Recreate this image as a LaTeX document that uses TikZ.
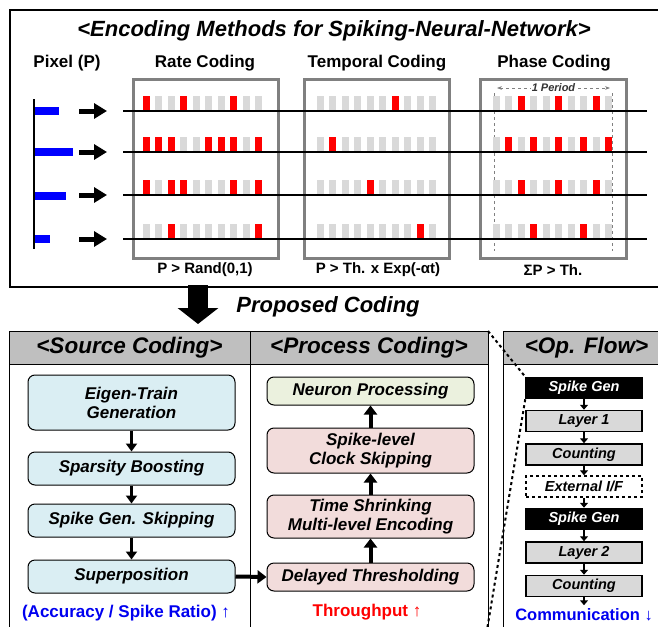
\documentclass[tikz,border=0pt]{standalone}
\usepackage{fontspec}
\setmainfont{Liberation Sans}
\usetikzlibrary{arrows.meta}
\definecolor{spkgray}{HTML}{D9D9D9}
\definecolor{boxgray}{HTML}{808080}
\definecolor{srcblue}{HTML}{DAEEF3}
\definecolor{procpink}{HTML}{F2DCDB}
\definecolor{neurgreen}{HTML}{EBF1DE}
\definecolor{headgray}{HTML}{BFBFBF}
\definecolor{txtblue}{HTML}{0000F0}
\tikzset{
	spike/.style={fill=spkgray},
	fire/.style={fill=red},
	codebox/.style={draw=boxgray, line width=3pt},
	heading/.style={font=\bfseries\fontsize{17}{19}\selectfont},
	formula/.style={font=\bfseries\fontsize{15}{17}\selectfont},
	header/.style={draw, line width=1pt, fill=headgray, minimum height=33pt, font=\bfseries\itshape\fontsize{22.5}{25}\selectfont},
	srcbox/.style={draw, line width=1pt, rounded corners=7pt, fill=srcblue, minimum width=207pt, align=center, font=\bfseries\itshape\fontsize{17}{19}\selectfont},
	procbox/.style={srcbox, fill=procpink},
	opbox/.style={draw, line width=1.5pt, fill=spkgray, minimum width=116pt, minimum height=21pt, inner sep=0pt, font=\bfseries\itshape\fontsize{14.5}{16}\selectfont},
	genbox/.style={opbox, fill=black, text=white},
	pixarrow/.style={line width=5pt, -{Triangle[length=13pt,width=15pt]}},
	srcarrow/.style={line width=3.5pt, -{Triangle[length=8pt,width=11pt]}},
	procarrow/.style={line width=4pt, -{Triangle[length=9pt,width=13pt]}},
	oparrow/.style={line width=2pt, -{Triangle[length=5pt,width=8pt]}},
}
\begin{document}
\begin{tikzpicture}[x=1pt,y=-1pt]
	\useasboundingbox (0,0) rectangle (658,626);
	% top frame
	\draw[line width=1.5pt] (662,10) -- (10,10) -- (10,287) -- (662,287);
	\node[font=\bfseries\itshape\fontsize{22}{24}\selectfont] (title) at (334,31) {<Encoding Methods for Spiking-Neural-Network>};
	\node[heading] (pixhead) at (67,63) {Pixel (P)};
	\node[heading] (ratehead) at (205,63) {Rate Coding};
	\node[heading] (temphead) at (377,63) {Temporal Coding};
	\node[heading] (phasehead) at (554,63) {Phase Coding};
	
	\draw[codebox] (133,79) rectangle (278,258);
	\draw[codebox] (304,79) rectangle (449,258);
	\draw[codebox] (480,79) rectangle (626,258);
	
	% one period
	\draw[boxgray, line width=1pt, dashed] (494,93) -- (494,251);
	\draw[boxgray, line width=1pt, dashed] (612,93) -- (612,251);
	\coordinate (perl) at (497,88);
	\coordinate (perr) at (610,88);
	\draw[boxgray, line width=1pt, dashed, {Stealth[length=5pt]}-{Stealth[length=5pt]}] (perl) -- node[fill=white, inner sep=1pt, text=black!80, font=\bfseries\itshape\fontsize{11}{12}\selectfont] (period) {1 Period} (perr);
	
	% spike trains
	\foreach \bx/\ly/\reds in {143/111/{1,4,8}, 143/152/{1,2,3,6,7,8,10}, 143/195/{1,3,4,8,10}, 143/239/{3,10},
		317/111/{7}, 317/152/{2}, 317/195/{5}, 317/239/{9},
		493/111/{3,6,9}, 493/152/{2,4,6,8,10}, 493/195/{3,6,9}, 493/239/{4,8}}{
		\foreach \i in {1,...,10}
			\fill[spike] ({\bx+12.45*(\i-1)},\ly-15) rectangle ++(7,15);
		\foreach \i in \reds
			\fill[fire] ({\bx+12.45*(\i-1)},\ly-15) rectangle ++(7,15);
	}
	\foreach \ly in {111,152,195,239}
		\draw[line width=1.5pt] (123,\ly) -- (647,\ly);
	
	% pixels
	\draw[line width=2pt] (34,99) -- (34,249);
	\foreach \ly/\len in {111/24, 152/38, 196/31, 239/15}
		\fill[blue] (35,\ly-4) rectangle ({35+\len},\ly+4);
	\foreach \ly in {111,152,195,239}
		\draw[pixarrow] (79,\ly) -- (107,\ly);
	
	\node[formula] (ratef) at (205,270) {P > Rand(0,1)};
	\node[formula] (tempf) at (378,270) {P > Th. x Exp(-αt)};
	\node[formula] (phasef) at (553,270) {ΣP > Th.};
	
	% proposed
	\coordinate (downtop) at (198,285);
	\coordinate (downbot) at (198,324);
	\draw[line width=20pt, -{Triangle[length=16pt,width=40pt]}] (downtop) -- (downbot);
	\node[font=\bfseries\itshape\fontsize{22}{24}\selectfont] (proposed) at (328,307) {Proposed Coding};
	
	% panels
	\draw[line width=1pt] (9,364) -- (9,640);
	\draw[line width=1pt] (250,364) -- (250,640);
	\draw[line width=1pt] (488,364) -- (488,640);
	\draw[line width=1pt] (503,364) -- (503,640);
	\node[header, minimum width=241pt] (srchead) at (129.5,347.5) {<Source Coding>};
	\node[header, minimum width=238pt] (prochead) at (369,347.5) {<Process Coding>};
	\node[header, minimum width=167pt] (ophead) at (586.5,347.5) {<Op. Flow>};
	
	% source coding
	\node[srcbox, minimum height=55pt] (eigen) at (131.5,402.5) {Eigen-Train\\Generation};
	\node[srcbox, minimum height=33pt] (sparsity) at (131.5,468.5) {Sparsity Boosting};
	\node[srcbox, minimum height=33pt] (skipping) at (131.5,520.5) {Spike Gen. Skipping};
	\node[srcbox, minimum height=33pt] (superpos) at (131.5,576.5) {Superposition};
	\draw[srcarrow] (eigen) -- (sparsity);
	\draw[srcarrow] (sparsity) -- (skipping);
	\draw[srcarrow] (skipping) -- (superpos);
	\node[text=txtblue, font=\bfseries\fontsize{17}{19}\selectfont] (accuracy) at (126,613) {(Accuracy / Spike Ratio) ↑};
	
	% process coding
	\node[procbox, fill=neurgreen, minimum height=28pt] (neuron) at (370.5,391) {Neuron Processing};
	\node[procbox, minimum height=45pt] (clockskip) at (370.5,450.5) {Spike-level\\Clock Skipping};
	\node[procbox, minimum height=43pt] (shrink) at (370.5,516.5) {Time Shrinking\\Multi-level Encoding};
	\node[procbox, minimum height=28pt] (delayed) at (370.5,577) {Delayed Thresholding};
	\draw[procarrow] (delayed) -- (shrink);
	\draw[procarrow] (shrink) -- (clockskip);
	\draw[procarrow] (clockskip) -- (neuron);
	\draw[procarrow] (superpos.east) -- (delayed.west);
	\node[text=red, font=\bfseries\fontsize{17}{19}\selectfont] (throughput) at (367,612) {Throughput ↑};
	
	% op flow
	\node[genbox] (gen1) at (584,388) {Spike Gen};
	\node[opbox] (layer1) at (584,421) {Layer 1};
	\node[opbox] (count1) at (584,454.5) {Counting};
	\node[opbox, fill=white, dashed] (extif) at (584,486.5) {External I/F};
	\node[genbox] (gen2) at (584,519) {Spike Gen};
	\node[opbox] (layer2) at (584,552.5) {Layer 2};
	\node[opbox] (count2) at (584,586) {Counting};
	\node[text=txtblue, font=\bfseries\fontsize{16.5}{18}\selectfont] (comm) at (584,615) {Communication ↓};
	\draw[oparrow] (gen1) -- (layer1);
	\draw[oparrow] (layer1) -- (count1);
	\draw[oparrow] (count1) -- (extif);
	\draw[oparrow] (extif) -- (gen2);
	\draw[oparrow] (gen2) -- (layer2);
	\draw[oparrow] (layer2) -- (count2);
	\draw[oparrow] (count2) -- (comm);
	
	\coordinate (proccorner) at (488,331);
	\coordinate (procbottom) at (487,630);
	\draw[line width=2pt, dashed] (proccorner) -- (gen1.north west);
	\draw[line width=2pt, dashed] (gen1.south west) -- (procbottom);
\end{tikzpicture}
\end{document}
